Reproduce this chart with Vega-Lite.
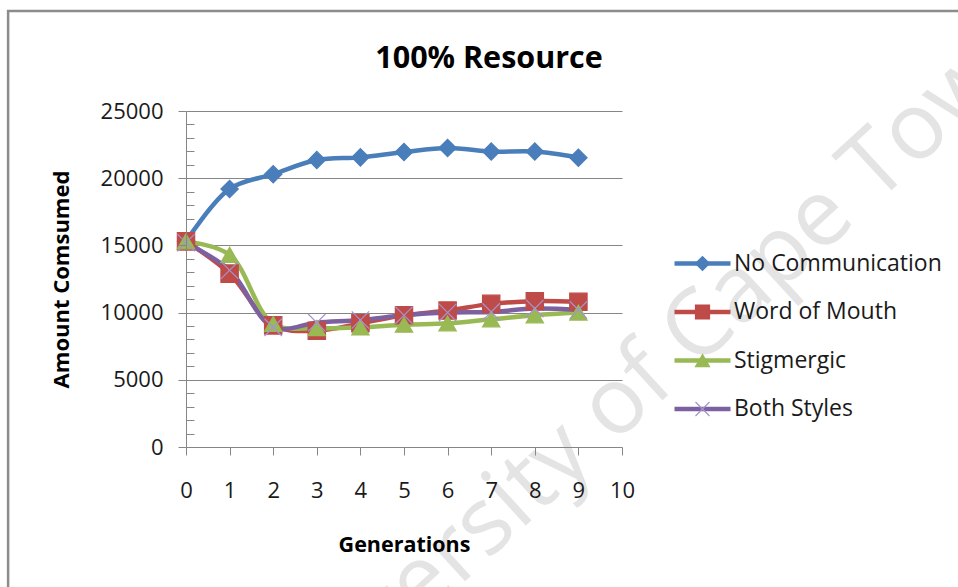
{
  "$schema": "https://vega.github.io/schema/vega-lite/v6.json",
  "autosize": "none",
  "width": 436,
  "height": 336,
  "padding": {"left": 186, "top": 111, "right": 336, "bottom": 140},
  "background": "white",
  "config": {
    "view": {"stroke": null},
    "font": "Open Sans"
  },
  "data": {
    "values": [
      {"gen": 0, "series": "No Communication", "amount": 15300},
      {"gen": 1, "series": "No Communication", "amount": 19200},
      {"gen": 2, "series": "No Communication", "amount": 20300},
      {"gen": 3, "series": "No Communication", "amount": 21350},
      {"gen": 4, "series": "No Communication", "amount": 21550},
      {"gen": 5, "series": "No Communication", "amount": 21950},
      {"gen": 6, "series": "No Communication", "amount": 22250},
      {"gen": 7, "series": "No Communication", "amount": 21980},
      {"gen": 8, "series": "No Communication", "amount": 21980},
      {"gen": 9, "series": "No Communication", "amount": 21530},
      {"gen": 0, "series": "Word of Mouth", "amount": 15300},
      {"gen": 1, "series": "Word of Mouth", "amount": 12900},
      {"gen": 2, "series": "Word of Mouth", "amount": 9050},
      {"gen": 3, "series": "Word of Mouth", "amount": 8650},
      {"gen": 4, "series": "Word of Mouth", "amount": 9200},
      {"gen": 5, "series": "Word of Mouth", "amount": 9800},
      {"gen": 6, "series": "Word of Mouth", "amount": 10150},
      {"gen": 7, "series": "Word of Mouth", "amount": 10650},
      {"gen": 8, "series": "Word of Mouth", "amount": 10850},
      {"gen": 9, "series": "Word of Mouth", "amount": 10800},
      {"gen": 0, "series": "Stigmergic", "amount": 15300},
      {"gen": 1, "series": "Stigmergic", "amount": 14300},
      {"gen": 2, "series": "Stigmergic", "amount": 9150},
      {"gen": 3, "series": "Stigmergic", "amount": 8850},
      {"gen": 4, "series": "Stigmergic", "amount": 8900},
      {"gen": 5, "series": "Stigmergic", "amount": 9100},
      {"gen": 6, "series": "Stigmergic", "amount": 9200},
      {"gen": 7, "series": "Stigmergic", "amount": 9500},
      {"gen": 8, "series": "Stigmergic", "amount": 9800},
      {"gen": 9, "series": "Stigmergic", "amount": 10000},
      {"gen": 0, "series": "Both Styles", "amount": 15200},
      {"gen": 1, "series": "Both Styles", "amount": 13150},
      {"gen": 2, "series": "Both Styles", "amount": 8900},
      {"gen": 3, "series": "Both Styles", "amount": 9250},
      {"gen": 4, "series": "Both Styles", "amount": 9450},
      {"gen": 5, "series": "Both Styles", "amount": 9800},
      {"gen": 6, "series": "Both Styles", "amount": 10000},
      {"gen": 7, "series": "Both Styles", "amount": 10050},
      {"gen": 8, "series": "Both Styles", "amount": 10300},
      {"gen": 9, "series": "Both Styles", "amount": 10200}
    ]
  },
  "resolve": {"axis": {"x": "independent", "y": "independent"}},
  "layer": [
    {
      "data": {"values": [{}]},
      "mark": {"type": "rect", "fill": "transparent", "stroke": "#8c8c8c", "strokeWidth": 2.5},
      "encoding": {
        "x": {"datum": -4.08, "type": "quantitative", "axis": null},
        "x2": {"datum": 18},
        "y": {
          "datum": 32440,
          "type": "quantitative",
          "axis": {
            "orient": "left",
            "values": [5000, 10000, 15000, 20000, 25000],
            "grid": true,
            "gridColor": "#868686",
            "gridWidth": 1,
            "labels": false,
            "ticks": false,
            "domain": false,
            "title": null,
            "zindex": 0
          }
        },
        "y2": {"datum": -12000}
      }
    },
    {
      "data": {"values": [{}]},
      "mark": {
        "type": "text",
        "text": "University of Cape Town",
        "angle": -42.5,
        "font": "Open Sans",
        "fontSize": 93,
        "color": "#e4e4e4",
        "align": "center",
        "baseline": "alphabetic"
      },
      "encoding": {
        "x": {"datum": 10.95, "type": "quantitative", "axis": null},
        "y": {"datum": 3550, "type": "quantitative", "axis": null}
      }
    },
    {
      "data": {"values": [{}]},
      "mark": {
        "type": "text",
        "text": "100% Resource",
        "font": "Open Sans",
        "fontSize": 30.5,
        "fontWeight": "bold",
        "color": "#000000",
        "align": "center",
        "baseline": "alphabetic"
      },
      "encoding": {
        "x": {"datum": 6.95, "type": "quantitative", "axis": null},
        "y": {"datum": 28200, "type": "quantitative", "axis": null}
      }
    },
    {
      "mark": {"type": "line", "interpolate": "catmull-rom", "strokeWidth": 4.5},
      "encoding": {
        "x": {
          "field": "gen",
          "type": "quantitative",
          "scale": {"domain": [0, 10], "nice": false, "zero": false},
          "axis": {
            "orient": "bottom",
            "values": [0, 1, 2, 3, 4, 5, 6, 7, 8, 9, 10],
            "format": "d",
            "title": "Generations",
            "titleFont": "Open Sans",
            "titleFontSize": 21.5,
            "titleFontWeight": "bold",
            "titleColor": "#000000",
            "titleBaseline": "alphabetic",
            "titleY": 104,
            "labelFont": "Open Sans",
            "labelFontSize": 22,
            "labelColor": "#1a1a1a",
            "labelPadding": 25,
            "labelFlush": false,
            "labelOverlap": false,
            "tickSize": 8,
            "tickColor": "#868686",
            "domainColor": "#868686",
            "domainWidth": 1,
            "grid": false,
            "zindex": 1
          }
        },
        "y": {
          "field": "amount",
          "type": "quantitative",
          "scale": {"domain": [0, 25000], "nice": false},
          "axis": {
            "orient": "left",
            "values": [0, 5000, 10000, 15000, 20000, 25000],
            "format": "d",
            "title": "Amount Comsumed",
            "titleFont": "Open Sans",
            "titleFontSize": 22,
            "titleFontWeight": "bold",
            "titleColor": "#000000",
            "titleBaseline": "alphabetic",
            "titleX": -118,
            "titleAngle": -90,
            "labelFont": "Open Sans",
            "labelFontSize": 22,
            "labelColor": "#1a1a1a",
            "labelPadding": 15,
            "labelFlush": false,
            "labelOverlap": false,
            "tickSize": 8,
            "tickColor": "#868686",
            "domainColor": "#868686",
            "grid": false,
            "zindex": 1
          }
        },
        "color": {
          "field": "series",
          "type": "nominal",
          "scale": {
            "domain": ["No Communication", "Word of Mouth", "Stigmergic", "Both Styles"],
            "range": ["#4a7ebb", "#be4b48", "#98b954", "#7d60a0"]
          },
          "legend": {
            "title": null,
            "orient": "none",
            "legendX": 505,
            "legendY": 141,
            "padding": 0,
            "symbolType": "M-4,0L4,0",
            "symbolSize": 196,
            "symbolStrokeWidth": 4.5,
            "labelOffset": 20,
            "labelFont": "Open Sans",
            "labelFontSize": 23,
            "labelColor": "#1a1a1a",
            "labelLimit": 400,
            "rowPadding": 24.5,
            "zindex": 1
          }
        }
      }
    },
    {
      "mark": {"type": "point", "filled": true, "size": 300, "strokeWidth": 1.2, "opacity": 1},
      "encoding": {
        "x": {"field": "gen", "type": "quantitative", "axis": null},
        "y": {
          "field": "amount",
          "type": "quantitative",
          "axis": {
            "orient": "left",
            "values": [1000, 2000, 3000, 4000, 6000, 7000, 8000, 9000, 11000, 12000, 13000, 14000, 16000, 17000, 18000, 19000, 21000, 22000, 23000, 24000],
            "tickSize": -8,
            "tickColor": "#868686",
            "labels": false,
            "domain": false,
            "grid": false,
            "title": null
          }
        },
        "fill": {
          "field": "series",
          "type": "nominal",
          "sort": null,
          "scale": {"range": ["#4a7ebb", "#be4b48", "#98b954", "transparent"]},
          "legend": {
            "title": null,
            "orient": "none",
            "legendX": 505,
            "legendY": 141,
            "padding": 0,
            "symbolSize": 196,
            "symbolStrokeWidth": 1.2,
            "labelOffset": 20,
            "labelFont": "Open Sans",
            "labelFontSize": 23,
            "labelLimit": 400,
            "labelOpacity": 0,
            "rowPadding": 24.5,
            "zindex": 1
          }
        },
        "stroke": {
          "field": "series",
          "type": "nominal",
          "sort": null,
          "scale": {"range": ["#4a7ebb", "#be4b48", "#98b954", "#a593cf"]},
          "legend": {
            "title": null,
            "orient": "none",
            "legendX": 505,
            "legendY": 141,
            "padding": 0,
            "symbolSize": 196,
            "symbolStrokeWidth": 1.2,
            "labelOffset": 20,
            "labelFont": "Open Sans",
            "labelFontSize": 23,
            "labelLimit": 400,
            "labelOpacity": 0,
            "rowPadding": 24.5,
            "zindex": 1
          }
        },
        "shape": {
          "field": "series",
          "type": "nominal",
          "sort": null,
          "scale": {"range": ["diamond", "square", "triangle-up", "M-1,-1L1,1M-1,1L1,-1"]},
          "legend": {
            "title": null,
            "orient": "none",
            "legendX": 505,
            "legendY": 141,
            "padding": 0,
            "symbolSize": 196,
            "symbolStrokeWidth": 1.2,
            "labelOffset": 20,
            "labelFont": "Open Sans",
            "labelFontSize": 23,
            "labelLimit": 400,
            "labelOpacity": 0,
            "rowPadding": 24.5,
            "zindex": 1
          }
        }
      }
    }
  ]
}
